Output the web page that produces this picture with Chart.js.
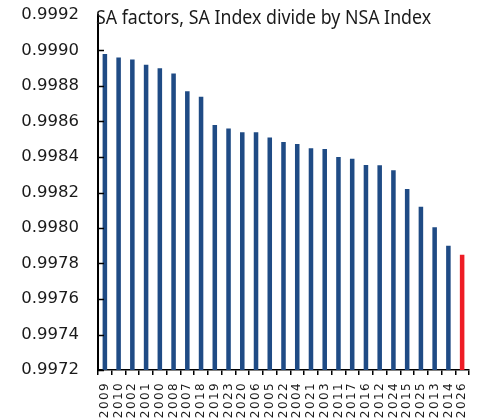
<!DOCTYPE html>
<html>
<head>
<meta charset="utf-8">
<script src="https://cdn.jsdelivr.net/npm/chart.js@4/dist/chart.umd.min.js"></script>
<style>
  html, body { margin: 0; padding: 0; background: #fff; }
  #wrap { position: relative; width: 483px; height: 419px; overflow: hidden; }
  #sub { position: absolute; left: 96px; top: 7px; font-family: "Noto Sans", sans-serif; font-size: 20px; line-height: 20px; color: #1a1a1a; white-space: nowrap; transform: scaleX(0.888); transform-origin: 0 0; }
</style>
</head>
<body>
<div id="wrap">
  <canvas id="c" width="483" height="419"></canvas>
  <div id="sub">SA factors, SA Index divide by NSA Index</div>
</div>
<script>
const categories = ["2009","2010","2002","2001","2000","2008","2007","2018","2019","2023","2020","2006","2005","2022","2004","2021","2003","2011","2017","2016","2012","2024","2015","2025","2013","2014","2026"];
const saFactors = [0.99898,0.99896,0.99895,0.99892,0.99890,0.99887,0.99877,0.99874,0.99858,0.99856,0.99854,0.99854,0.99851,0.998485,0.998473,0.998449,0.998445,0.99840,0.99839,0.998355,0.998353,0.998325,0.99822,0.99812,0.998004,0.99790,0.99785];
const highlightYear = "2026";
const yTickLabels = ["0.9972","0.9974","0.9976","0.9978","0.9980","0.9982","0.9984","0.9986","0.9988","0.9990","0.9992"];
const yMin = 0.9972, yMax = 0.9992, yStep = 0.0002;

const BLUE = "#1f4b85", RED = "#ee1c25";

const innerTicks = {
  id: "innerTicks",
  beforeDraw(chart) {
    const xs = chart.scales.x;
    if (xs && !xs._lsPatched) {
      const orig = xs.drawLabels;
      xs.drawLabels = function (area) {
        const ctx = this.ctx;
        ctx.save();
        try { ctx.letterSpacing = "1.4px"; } catch (e) {}
        orig.call(this, area);
        ctx.restore();
      };
      xs._lsPatched = true;
    }
  },
  afterDraw(chart) {
    const y = chart.scales.y, a = chart.chartArea, ctx = chart.ctx;
    ctx.save();
    ctx.strokeStyle = "#000";
    ctx.lineWidth = 1.5;
    y.ticks.forEach((t, i) => {
      if (i === y.ticks.length - 1) return;
      const p = Math.round(y.getPixelForTick(i)) + 0.5;
      ctx.beginPath();
      ctx.moveTo(a.left, p);
      ctx.lineTo(a.left + 6, p);
      ctx.stroke();
    });
    ctx.restore();
  }
};

new Chart(document.getElementById("c"), {
  type: "bar",
  data: {
    labels: categories,
    datasets: [{
      data: saFactors,
      backgroundColor: categories.map(c => c === highlightYear ? RED : BLUE),
      borderWidth: 0,
      categoryPercentage: 1,
      barPercentage: 0.33
    }]
  },
  options: {
    responsive: false,
    animation: false,
    devicePixelRatio: 1,
    layout: { padding: { top: 15, right: 14, left: 0, bottom: 0 } },
    plugins: { legend: { display: false }, title: { display: false }, tooltip: { enabled: false } },
    scales: {
      x: {
        offset: true,
        grid: { display: true, drawOnChartArea: false, drawTicks: true, tickLength: 5, color: "#000", lineWidth: 1.5, offset: true },
        border: { display: true, color: "#000", width: 1.5 },
        ticks: {
          autoSkip: false, minRotation: 90, maxRotation: 90, padding: 7,
          color: "#1a1a1a", font: { family: "DejaVu Sans", size: 12 }
        },
        afterFit(s) { s.height = 49; s.paddingLeft = 0; s.paddingRight = 0; }
      },
      y: {
        min: yMin, max: yMax,
        grid: { display: false, drawTicks: false },
        border: { display: true, color: "#000", width: 2 },
        ticks: {
          stepSize: yStep, padding: 19, color: "#1a1a1a",
          font: { family: "DejaVu Sans", size: 16.5 },
          callback: (v, i) => yTickLabels[i]
        },
        afterFit(s) { s.width = 98; s.paddingTop = 0; s.paddingBottom = 0; }
      }
    }
  },
  plugins: [innerTicks]
});
</script>
</body>
</html>
